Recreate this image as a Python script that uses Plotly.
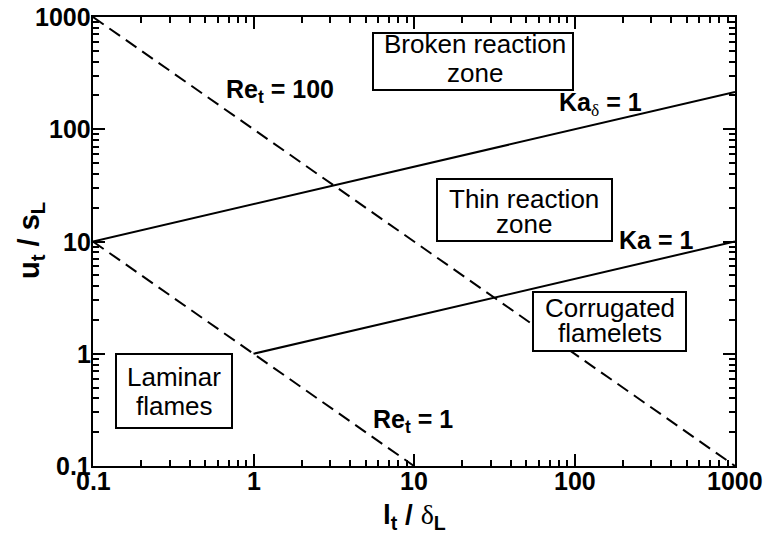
import math
import plotly.graph_objects as go

# Regime boundaries (l_t/delta_L, u_t/s_L), drawn as straight lines on log-log axes
re100_x = [0.1, 1000]
re100_y = [1000, 0.1]
re1_x = [0.1, 10]
re1_y = [10, 0.1]
ka_delta_x = [0.1, 1000]
ka_delta_y = [10, 215]
ka_x = [1, 1000]
ka_y = [1, 10]

major_ticks = [0.1, 1, 10, 100, 1000]
major_labels = ["0.1", "1", "10", "100", "1000"]
minor_ticks = [m * d for d in (0.1, 1, 10, 100) for m in range(2, 10)]

W, H = 767, 538
L, R, T, B = 93, 32, 17, 72
PW, PH = W - L - R, H - T - B


def fx(px):
    return (px - L) / PW


def fy(py):
    return (H - B - py) / PH


FONT = "Liberation Sans, Arial, sans-serif"
SERIF = "Liberation Serif"

fig = go.Figure()

line_specs = [
    (re100_x, re100_y, "13px,7px"),
    (re1_x, re1_y, "13px,7px"),
    (ka_delta_x, ka_delta_y, "solid"),
    (ka_x, ka_y, "solid"),
]
for xs, ys, dash in line_specs:
    fig.add_trace(go.Scatter(
        x=xs, y=ys, mode="lines",
        line=dict(color="black", width=2, dash=dash),
        showlegend=False, hoverinfo="skip",
    ))

# Invisible trace that anchors the mirrored top/right axes
fig.add_trace(go.Scatter(
    x=re100_x, y=re100_y, mode="lines", xaxis="x2", yaxis="y2",
    line=dict(color="rgba(0,0,0,0)", width=0),
    showlegend=False, hoverinfo="skip",
))

axis_common = dict(
    type="log",
    range=[-1, 3],
    showgrid=False,
    zeroline=False,
    showline=True,
    linecolor="black",
    linewidth=2,
    ticks="inside",
    ticklen=12,
    tickwidth=1.5,
    tickcolor="black",
    tickvals=major_ticks,
    showticklabels=False,
    minor=dict(ticks="inside", ticklen=6, tickwidth=1.5, tickcolor="black",
               tickvals=minor_ticks, showgrid=False),
    automargin=False,
)

fig.update_layout(
    xaxis=dict(**axis_common),
    yaxis=dict(**axis_common),
    xaxis2=dict(**axis_common, overlaying="x", side="top", anchor="y2"),
    yaxis2=dict(**axis_common, overlaying="y", side="right", anchor="x2"),
)

annotations = []
shapes = []

# Tick labels, placed at the major tick values of each axis
tick_font = dict(family=FONT, size=25, color="black", weight="bold")
for v, lab in zip(major_ticks, major_labels):
    annotations.append(dict(
        xref="x", yref="paper", x=math.log10(v), y=0, yshift=1,
        text=lab, showarrow=False, font=tick_font,
        xanchor="center", yanchor="top",
    ))
    annotations.append(dict(
        xref="paper", yref="y", x=0, y=math.log10(v), xshift=0,
        text=lab, showarrow=False, font=tick_font,
        xanchor="right", yanchor="middle",
    ))

# Axis titles
annotations.append(dict(
    xref="paper", yref="paper", x=fx(414), y=fy(516),
    text="<b>l<sub>t</sub> / </b><span style='font-family:" + SERIF + "'>δ</span><b><sub>L</sub></b>",
    showarrow=False, font=dict(family=FONT, size=28, color="black"),
    xanchor="center", yanchor="middle",
))
annotations.append(dict(
    xref="paper", yref="paper", x=fx(31), y=fy(241),
    text="<b>u<sub>t</sub> / s<sub>L</sub></b>",
    showarrow=False, textangle=-90, font=dict(family=FONT, size=29, color="black"),
    xanchor="center", yanchor="middle",
))

# Boundary labels
bold_labels = [
    (280, 91, "<b>Re<sub>t</sub> = 100</b>"),
    (600, 104, "<b>Ka</b><span style='font-family:" + SERIF + "'><sub>δ</sub></span><b> = 1</b>"),
    (656, 240, "<b>Ka = 1</b>"),
    (413, 421, "<b>Re<sub>t</sub> = 1</b>"),
]
for px, py, txt in bold_labels:
    annotations.append(dict(
        xref="paper", yref="paper", x=fx(px), y=fy(py), text=txt,
        showarrow=False, font=dict(family=FONT, size=25, color="black"),
        xanchor="center", yanchor="middle",
    ))

# Regime boxes: (left, top, right, bottom), text centre x, line centres y, lines
regimes = [
    ((373, 33, 573, 90), 475, (44, 73), ("Broken reaction", "zone")),
    ((437, 179, 612, 241), 524, (199, 224), ("Thin reaction", "zone")),
    ((533, 292, 686, 351), 610, (308, 333), ("Corrugated", "flamelets")),
    ((116, 354, 232, 428), 174, (377, 406), ("Laminar", "flames")),
]
for (x0, y0, x1, y1), cx, cys, lines in regimes:
    shapes.append(dict(
        type="rect", xref="paper", yref="paper",
        x0=fx(x0), x1=fx(x1), y0=fy(y0), y1=fy(y1),
        line=dict(color="black", width=2), fillcolor="white", layer="above",
    ))
    for cy, txt in zip(cys, lines):
        annotations.append(dict(
            xref="paper", yref="paper", x=fx(cx), y=fy(cy), text=txt,
            showarrow=False, font=dict(family=FONT, size=26, color="black"),
            xanchor="center", yanchor="middle",
        ))

fig.update_layout(
    width=W, height=H,
    margin=dict(l=L, r=R, t=T, b=B),
    paper_bgcolor="white",
    plot_bgcolor="white",
    annotations=annotations,
    shapes=shapes,
)

fig.write_html("out.html")
